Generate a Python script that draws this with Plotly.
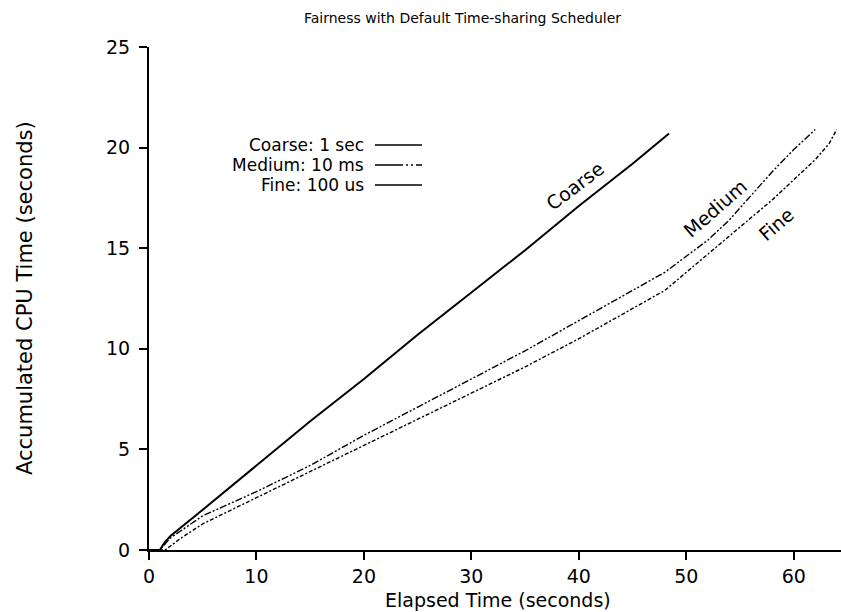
import plotly.graph_objects as go

# ---- data ----
coarse_x = [0, 1, 1.5, 2, 5, 10, 15, 20, 25, 30, 35, 40, 45, 48.4]
coarse_y = [0, 0, 0.4, 0.7, 2.0, 4.2, 6.4, 8.5, 10.7, 12.8, 14.9, 17.1, 19.2, 20.7]

medium_x = [0, 1, 2, 5, 10, 15, 20, 25, 30, 35, 40, 45, 48, 50, 52, 54, 56, 58, 60, 62]
medium_y = [0, 0, 0.6, 1.7, 2.9, 4.2, 5.7, 7.1, 8.5, 9.9, 11.4, 12.9, 13.8, 14.6, 15.4, 16.4, 17.6, 18.8, 19.9, 20.9]

fine_x = [0, 1.5, 3, 5, 10, 15, 20, 25, 30, 35, 40, 45, 48, 50, 52, 54, 56, 58, 60, 62, 63.3, 64]
fine_y = [0, 0, 0.6, 1.3, 2.6, 3.9, 5.2, 6.5, 7.8, 9.1, 10.5, 12.0, 12.9, 13.8, 14.7, 15.6, 16.5, 17.4, 18.4, 19.4, 20.2, 20.9]

x_ticks = [0, 10, 20, 30, 40, 50, 60]
x_tick_labels = ["0", "10", "20", "30", "40", "50", "60"]
y_ticks = [0, 5, 10, 15, 20, 25]
y_tick_labels = ["0", "5", "10", "15", "20", "25"]

legend_labels = ["Coarse: 1 sec", "Medium: 10 ms", "Fine: 100 us"]
curve_labels = ["Coarse", "Medium", "Fine"]

FONT = "DejaVu Sans"
INK = "black"
PLOT_BOTTOM, PLOT_H = 550, 503


def py2paper(py):
    return (PLOT_BOTTOM - py) / PLOT_H


fig = go.Figure()
fig.add_trace(go.Scatter(x=coarse_x, y=coarse_y, mode="lines",
                         line=dict(color=INK, width=2), name=legend_labels[0]))
fig.add_trace(go.Scatter(x=medium_x, y=medium_y, mode="lines",
                         line=dict(color=INK, width=1.4, dash="7px,2px,2px,2px,2px,2px"),
                         name=legend_labels[1]))
fig.add_trace(go.Scatter(x=fine_x, y=fine_y, mode="lines",
                         line=dict(color=INK, width=1.4, dash="4px,2px,2px,2px"), name=legend_labels[2]))

# manual legend (text to the left of the sample line)
leg_py = [145, 165, 185]
leg_dash = ["solid", "28px,3px,2px,3px,2px,3px", "solid"]
for lab, yy, dsh in zip(legend_labels, leg_py, leg_dash):
    fig.add_annotation(x=(365 - 149) / 692, y=py2paper(yy), xref="paper", yref="paper", text=lab,
                       showarrow=False, xanchor="right", yanchor="middle", borderpad=0,
                       font=dict(family=FONT, size=17, color=INK))
    fig.add_shape(type="line", xref="paper", yref="paper", x0=(375 - 149) / 692, x1=(422 - 149) / 692,
                  y0=py2paper(yy), y1=py2paper(yy), line=dict(color=INK, width=1.5, dash=dsh))

# curve labels
fig.add_annotation(x=39.6, y=18.1, text=curve_labels[0], showarrow=False, textangle=-37,
                   font=dict(family=FONT, size=19, color=INK))
fig.add_annotation(x=52.7, y=17.0, text=curve_labels[1], showarrow=False, textangle=-41,
                   font=dict(family=FONT, size=19, color=INK))
fig.add_annotation(x=58.4, y=16.2, text=curve_labels[2], showarrow=False, textangle=-41,
                   font=dict(family=FONT, size=19, color=INK))

# title and axis titles
fig.add_annotation(x=(462 - 149) / 692, y=py2paper(18), xref="paper", yref="paper",
                   text="Fairness with Default Time-sharing Scheduler", showarrow=False,
                   xanchor="center", yanchor="middle", font=dict(family=FONT, size=14, color=INK))
fig.add_annotation(x=(498 - 149) / 692, y=py2paper(600), xref="paper", yref="paper",
                   text="Elapsed Time (seconds)", showarrow=False, borderpad=0,
                   xanchor="center", yanchor="middle", font=dict(family=FONT, size=19, color=INK))
fig.add_annotation(x=(25 - 149) / 692, y=py2paper(298), xref="paper", yref="paper",
                   text="Accumulated CPU Time (seconds)", showarrow=False, textangle=-90,
                   xanchor="center", yanchor="middle", font=dict(family=FONT, size=21, color=INK))

fig.update_xaxes(range=[0, 64.4], tickvals=x_ticks, ticktext=x_tick_labels,
                 showgrid=False, zeroline=False, showline=True, linecolor=INK, linewidth=2,
                 ticks="outside", ticklen=8, tickwidth=2, tickcolor=INK,
                 tickfont=dict(family=FONT, size=19, color=INK))
fig.update_yaxes(range=[0, 25], tickvals=y_ticks, ticktext=y_tick_labels,
                 showgrid=False, zeroline=False, showline=True, linecolor=INK, linewidth=2,
                 ticks="outside", ticklen=8, tickwidth=2, tickcolor=INK, ticklabelstandoff=5,
                 tickfont=dict(family=FONT, size=19, color=INK))

fig.update_layout(width=841, height=612, showlegend=False,
                  margin=dict(l=149, r=0, t=47, b=62),
                  plot_bgcolor="white", paper_bgcolor="white")

fig.write_html("out.html", config={"displayModeBar": False},
               post_script="document.body.style.margin='0';document.body.style.overflow='hidden';")
